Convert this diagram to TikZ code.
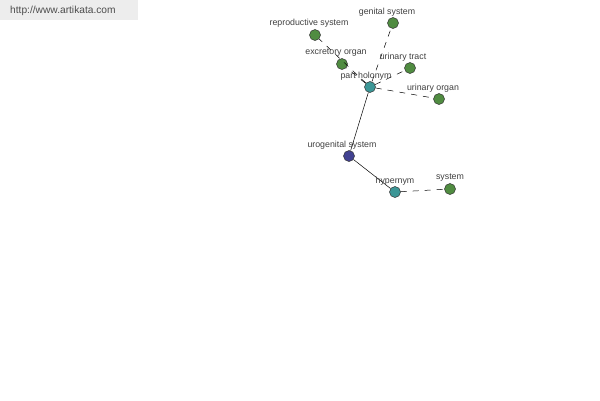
\documentclass[tikz,border=0pt]{standalone}
\usepackage{fontspec}
\setmainfont{Liberation Sans}
\definecolor{leafc}{RGB}{80,140,65}
\definecolor{relc}{RGB}{60,150,150}
\definecolor{rootc}{RGB}{65,65,145}
\begin{document}
\begin{tikzpicture}[x=1pt,y=-1pt,
  dot/.style={circle,draw=black!80,line width=0.5pt,minimum size=11pt,inner sep=0pt},
  leaf/.style={dot,fill=leafc},
  rel/.style={dot,fill=relc},
  root/.style={dot,fill=rootc},
  lbl/.style={font=\fontsize{8.8}{9}\selectfont,text=black!75,inner sep=0pt},
  link/.style={line width=0.5pt,black},
  dlink/.style={link,dash pattern=on 6pt off 6pt}]
\useasboundingbox (0,0) rectangle (600,400);
\fill[black!7] (0,0) rectangle (138,20);
\node[font=\fontsize{10.2}{11}\selectfont,text=black!70,anchor=west,inner sep=0pt] (url) at (10,11) {http://www.artikata.com};
\node[leaf] (rep) at (315,35) {};
\node[leaf] (gen) at (393,23) {};
\node[leaf] (exc) at (342,64) {};
\node[leaf] (ut) at (410,68) {};
\node[rel] (ph) at (370,87) {};
\node[leaf] (uo) at (439,99) {};
\node[root] (ug) at (349,156) {};
\node[rel] (hyp) at (395,192) {};
\node[leaf] (sys) at (450,189) {};
\draw[dlink] (ph) -- (rep);
\draw[dlink] (ph) -- (gen);
\draw[dlink] (ph) -- (exc);
\draw[dlink] (ph) -- (ut);
\draw[dlink] (ph) -- (uo);
\draw[link] (ug) -- (ph);
\draw[link] (ug) -- (hyp);
\draw[dlink] (hyp) -- (sys);
\node[lbl] (lrep) at (309,23) {reproductive system};
\node[lbl] (lgen) at (387,12) {genital system};
\node[lbl] (lexc) at (336,53) {excretory organ};
\node[lbl] (lut) at (403,57) {urinary tract};
\node[lbl] (lph) at (366,76) {part holonym};
\node[lbl] (luo) at (433,88) {urinary organ};
\node[lbl] (lug) at (342,145) {urogenital system};
\node[lbl] (lhyp) at (395,181) {hypernym};
\node[lbl] (lsys) at (450,178) {system};
\end{tikzpicture}
\end{document}
